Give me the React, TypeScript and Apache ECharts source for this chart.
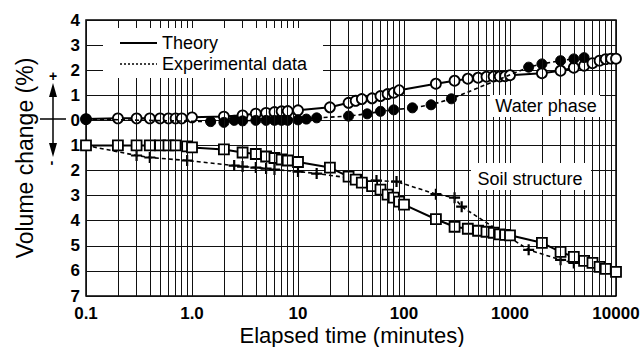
import React, { useEffect, useRef } from "react";
import * as echarts from "echarts";

const FONT = '"Liberation Sans", Arial, Helvetica, sans-serif';

// x ticks (minutes) and their printed labels
const X_TICKS = [0.1, 1, 10, 100, 1000, 10000];
const X_LABELS = ["0.1", "1.0", "10", "100", "1000", "10000"];
// minor log grid: multipliers within each decade
const DECADES = [0.1, 1, 10, 100, 1000];
const MULTS = [2, 3, 4, 5, 6, 7, 8, 9];

// Water phase – theory (open circles, solid line)
const waterTheoryT = [0.1, 0.2, 0.3, 0.4, 0.5, 0.6, 0.7, 0.8, 1, 2, 3, 4, 5, 6, 7, 8, 10, 20, 30, 35, 40, 50, 60, 70, 80, 90, 200, 300, 400, 500, 600, 700, 800, 900, 1000, 2000, 3000, 4000, 5000, 6000, 7000, 8000, 9000, 10000];
const waterTheoryV = [0.05, 0.08, 0.08, 0.08, 0.08, 0.08, 0.08, 0.08, 0.12, 0.15, 0.2, 0.27, 0.3, 0.33, 0.36, 0.37, 0.4, 0.52, 0.7, 0.78, 0.85, 0.88, 0.97, 1.05, 1.1, 1.2, 1.46, 1.58, 1.66, 1.7, 1.74, 1.75, 1.75, 1.76, 1.8, 1.88, 1.98, 2.1, 2.18, 2.28, 2.38, 2.44, 2.46, 2.46];

// Water phase – experimental (filled circles, dashed line)
const waterExpT = [0.1, 1.5, 2, 2.5, 3, 4, 5, 6, 7, 8, 10, 12, 15, 30, 45, 60, 80, 120, 180, 280, 1500, 2000, 3000, 4000, 5000];
const waterExpV = [0.05, -0.05, -0.08, 0, -0.02, 0, 0, 0, 0, 0, 0.02, 0.05, 0.1, 0.17, 0.26, 0.36, 0.42, 0.5, 0.62, 0.86, 2.12, 2.25, 2.38, 2.45, 2.5];

// Soil structure – theory (open squares, solid line)
const soilTheoryT = [0.1, 0.2, 0.3, 0.4, 0.5, 0.6, 0.7, 0.9, 1, 2, 3, 4, 5, 6, 7, 8, 10, 20, 30, 35, 40, 50, 60, 70, 80, 90, 100, 200, 300, 400, 500, 600, 700, 800, 900, 1000, 2000, 3000, 4000, 5000, 6000, 7000, 8000, 10000];
const soilTheoryV = [-1, -1, -1, -1, -1, -1, -1, -1.04, -1.08, -1.16, -1.28, -1.34, -1.44, -1.5, -1.56, -1.6, -1.66, -1.88, -2.24, -2.36, -2.48, -2.62, -2.76, -2.96, -3.08, -3.24, -3.36, -3.94, -4.24, -4.32, -4.4, -4.44, -4.48, -4.54, -4.56, -4.58, -4.88, -5.24, -5.44, -5.6, -5.68, -5.84, -5.92, -6.04];

// Soil structure – experimental (crosses, dashed line)
const soilExpT = [0.1, 0.3, 0.4, 0.9, 2.5, 3, 4, 5, 6, 10, 15, 40, 55, 85, 200, 300, 350, 1500, 3000, 4000];
const soilExpV = [-1, -1.4, -1.48, -1.6, -1.8, -1.84, -1.88, -1.92, -1.96, -2.04, -2.12, -2.36, -2.4, -2.44, -2.94, -3.08, -3.44, -5.16, -5.56, -5.68];

const X_TITLE = "Elapsed time (minutes)";
const Y_TITLE = "Volume change (%)";

const PLUS = "path://M4,0H6V4H10V6H6V10H4V6H0V4H4Z";

function pairs(t: number[], v: number[]) {
  return t.map((x, i) => [x, v[i]]);
}

export default function App() {
  const ref = useRef<HTMLDivElement>(null);
  useEffect(() => {
    if (!ref.current) return;
    const chart = echarts.init(ref.current, null, { renderer: "svg" });
    const minor: number[] = [];
    DECADES.forEach((d) => MULTS.forEach((m) => minor.push(+(d * m).toPrecision(3))));

    const soilExpData: any[] = pairs(soilExpT, soilExpV);
    soilExpData[0] = { value: soilExpData[0], symbol: "none" };

    const option: any = {
      animation: false,
      backgroundColor: "#fff",
      textStyle: { fontFamily: FONT },
      grid: {
        left: 86,
        right: 27,
        top: 20,
        bottom: 51,
        containLabel: false,
        outerBoundsMode: "none",
        show: true,
        borderColor: "#000",
        borderWidth: 1.5,
        backgroundColor: "transparent",
      },
      xAxis: {
        type: "log",
        logBase: 10,
        min: 0.1,
        max: 10000,
        axisLine: { show: false },
        axisTick: { show: false },
        splitLine: { show: true, lineStyle: { color: "#111", width: 1 } },
        axisLabel: {
          color: "#000",
          fontSize: 17,
          fontWeight: "bold",
          fontFamily: FONT,
          margin: 9,
          formatter: (v: number) => {
            let best = 0;
            X_TICKS.forEach((t, i) => {
              if (Math.abs(Math.log10(t) - Math.log10(v)) < Math.abs(Math.log10(X_TICKS[best]) - Math.log10(v))) best = i;
            });
            return X_LABELS[best];
          },
        },
      },
      yAxis: {
        type: "value",
        min: -7,
        max: 4,
        interval: 1,
        axisLine: { show: false },
        axisTick: { show: false },
        splitLine: { show: true, lineStyle: { color: "#111", width: 1 } },
        axisLabel: {
          color: "#000",
          fontSize: 17,
          fontWeight: "bold",
          fontFamily: FONT,
          margin: 6,
          formatter: (v: number) => String(Math.abs(Math.round(v))),
        },
        name: Y_TITLE,
        nameLocation: "middle",
        nameGap: 50,
        nameTextStyle: { color: "#000", fontSize: 23, fontFamily: FONT },
      },
      series: [
        {
          type: "line",
          name: "grid",
          data: [[0.1, 4]],
          symbol: "none",
          lineStyle: { opacity: 0 },
          silent: true,
          z: 1,
          markLine: {
            silent: true,
            symbol: ["none", "none"],
            label: { show: false },
            lineStyle: { color: "#111", width: 1, type: "solid" },
            emphasis: { disabled: true },
            data: minor.map((m) => ({ xAxis: m })),
          },
        },
        {
          type: "line",
          name: "Water theory",
          data: pairs(waterTheoryT, waterTheoryV),
          symbol: "circle",
          symbolSize: 10,
          color: "#000",
          lineStyle: { color: "#000", width: 2 },
          itemStyle: { color: "#fff", borderColor: "#000", borderWidth: 1.8 },
          emphasis: { disabled: true },
          z: 3,
        },
        {
          type: "line",
          name: "Water experimental",
          data: pairs(waterExpT, waterExpV),
          symbol: "circle",
          symbolSize: 10,
          color: "#000",
          lineStyle: { color: "#000", width: 1.6, type: [4, 3] },
          itemStyle: { color: "#000", borderColor: "#000", borderWidth: 1 },
          emphasis: { disabled: true },
          z: 4,
        },
        {
          type: "line",
          name: "Soil theory",
          data: pairs(soilTheoryT, soilTheoryV),
          symbol: "rect",
          symbolSize: 10,
          color: "#000",
          lineStyle: { color: "#000", width: 2 },
          itemStyle: { color: "#fff", borderColor: "#000", borderWidth: 1.8 },
          emphasis: { disabled: true },
          z: 4,
        },
        {
          type: "line",
          name: "Soil experimental",
          data: soilExpData,
          symbol: PLUS,
          symbolSize: 11,
          color: "#000",
          lineStyle: { color: "#000", width: 1.6, type: [4, 3] },
          itemStyle: { color: "#000" },
          emphasis: { disabled: true },
          z: 3,
        },
      ],
      graphic: [
        // x-axis title
        { type: "text", z: 101, x: 352, y: 335, style: { text: X_TITLE, fill: "#000", font: `22px ${FONT}`, verticalAlign: "middle", align: "center" } },
        // legend box
        { type: "rect", z: 100, shape: { x: 103, y: 28, width: 220, height: 50 }, style: { fill: "#fff" } },
        { type: "line", z: 101, shape: { x1: 120, y1: 43, x2: 157, y2: 43 }, style: { stroke: "#000", lineWidth: 2 } },
        { type: "line", z: 101, shape: { x1: 120, y1: 64, x2: 157, y2: 64 }, style: { stroke: "#000", lineWidth: 1.5, lineDash: [2, 2] } },
        { type: "text", z: 101, x: 162, y: 43, style: { text: "Theory", fill: "#000", font: `18px ${FONT}`, verticalAlign: "middle", align: "left" } },
        { type: "text", z: 101, x: 162, y: 64, style: { text: "Experimental data", fill: "#000", font: `18px ${FONT}`, verticalAlign: "middle", align: "left" } },
        // annotations
        { type: "rect", z: 100, shape: { x: 490, y: 95, width: 110, height: 22 }, style: { fill: "#fff" } },
        { type: "text", z: 101, x: 546, y: 106, style: { text: "Water phase", fill: "#000", font: `18px ${FONT}`, verticalAlign: "middle", align: "center" } },
        { type: "rect", z: 100, shape: { x: 471, y: 163, width: 120, height: 27 }, style: { fill: "#fff" } },
        { type: "text", z: 101, x: 530, y: 179, style: { text: "Soil structure", fill: "#000", font: `18px ${FONT}`, verticalAlign: "middle", align: "center" } },
        // +/- arrow next to the y axis
        { type: "line", z: 101, shape: { x1: 53, y1: 90, x2: 53, y2: 150 }, style: { stroke: "#000", lineWidth: 1.5 } },
        { type: "polygon", z: 101, shape: { points: [[53, 83], [49, 97], [57, 97]] }, style: { fill: "#000" } },
        { type: "polygon", z: 101, shape: { points: [[53, 157], [49, 143], [57, 143]] }, style: { fill: "#000" } },
        { type: "line", z: 101, shape: { x1: 40, y1: 119, x2: 66, y2: 119 }, style: { stroke: "#000", lineWidth: 1.5 } },
        { type: "text", z: 101, x: 53, y: 76, style: { text: "+", fill: "#000", font: `bold 14px ${FONT}`, verticalAlign: "middle", align: "center" } },
        { type: "text", z: 101, x: 53, y: 163, rotation: -Math.PI / 2, style: { text: "-", fill: "#000", font: `bold 14px ${FONT}`, verticalAlign: "middle", align: "center" } },
      ],
    };
    chart.setOption(option);
    return () => chart.dispose();
  }, []);
  return <div ref={ref} style={{ position: "fixed", left: 0, top: 0, width: 643, height: 347, background: "#fff" }} />;
}
